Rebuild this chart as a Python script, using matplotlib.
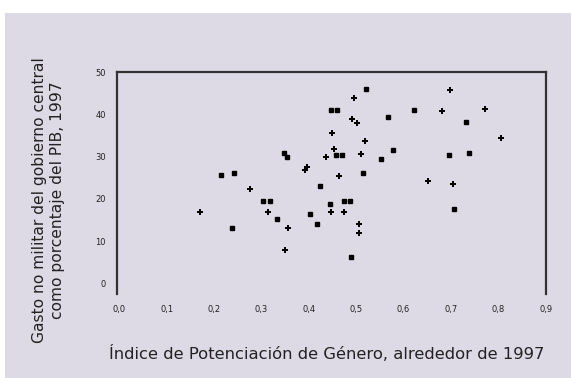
"""Gasto no militar vs Indice de Potenciacion de Genero (scatter)."""
import matplotlib
matplotlib.use("Agg")
import matplotlib.pyplot as plt
from matplotlib.patches import Rectangle

# square markers
sq_x = [0.520, 0.447, 0.460, 0.457, 0.470, 0.348, 0.354, 0.242, 0.215, 0.515,
        0.424, 0.304, 0.319, 0.474, 0.487, 0.445, 0.333, 0.403, 0.418, 0.237,
        0.488, 0.621, 0.567, 0.732, 0.578, 0.553, 0.695, 0.738, 0.706]
sq_y = [46.1, 41.2, 41.2, 30.5, 30.5, 31.0, 29.9, 26.1, 25.8, 26.1,
        23.2, 19.6, 19.6, 19.6, 19.6, 18.9, 15.3, 16.5, 14.1, 13.0,
        6.2, 41.2, 39.4, 38.2, 31.7, 29.5, 30.4, 31.0, 17.7]

# plus markers
pl_x = [0.495, 0.492, 0.501, 0.448, 0.518, 0.453, 0.436, 0.511, 0.396, 0.392,
        0.464, 0.276, 0.171, 0.313, 0.446, 0.474, 0.357, 0.506, 0.506, 0.350,
        0.699, 0.682, 0.772, 0.806, 0.651, 0.704]
pl_y = [44.0, 39.0, 38.0, 35.6, 33.9, 31.9, 30.1, 30.7, 27.7, 27.0,
        25.4, 22.3, 16.8, 16.8, 16.9, 16.9, 13.2, 14.0, 12.0, 7.8,
        45.9, 41.0, 41.5, 34.4, 24.2, 23.5]

x_ticks = [0.0, 0.1, 0.2, 0.3, 0.4, 0.5, 0.6, 0.7, 0.8, 0.9]
x_labels = ["0,0", "0,1", "0,2", "0,3", "0,4", "0,5", "0,6", "0,7", "0,8", "0,9"]
y_ticks = [0, 10, 20, 30, 40, 50]
y_labels = ["0", "10", "20", "30", "40", "50"]

bg = "#dddae6"
ink = "#222222"

fig = plt.figure(figsize=(5.71, 3.78), dpi=100, facecolor="white")
fig.patches.append(Rectangle((5 / 571, 0), 1, 1 - 13 / 378, transform=fig.transFigure,
                             facecolor=bg, edgecolor="none", zorder=-10))

ax = fig.add_axes([117 / 571, 1 - 294 / 378, (545.7 - 117) / 571, (294 - 72) / 378])
ax.set_facecolor("none")
ax.plot(sq_x, sq_y, ls="none", marker="s", ms=3.4, color="black")
ax.plot(pl_x, pl_y, ls="none", marker="P", ms=5, color="black", mew=0)

ax.set_xlim(-0.005, 0.896)
ax.set_ylim(-2.6, 50.2)
ax.set_xticks(x_ticks, x_labels)
ax.set_yticks(y_ticks, y_labels)
ax.tick_params(length=0, labelsize=6, colors=ink, pad=8)

for side in ["left", "top", "right"]:
    ax.spines[side].set_linewidth(1.6)
    ax.spines[side].set_color("#333333")
ax.spines["bottom"].set_visible(False)

fig.text(0.085, 0.47, "Gasto no militar del gobierno central\ncomo porcentaje del PIB, 1997",
         rotation=90, ha="center", va="center", fontsize=11.2, color=ink, linespacing=1.2)
fig.text(0.573, 0.066, "Índice de Potenciación de Género, alrededor de 1997",
         ha="center", va="center", fontsize=11.8, color=ink)

fig.savefig("out.png", dpi=100, facecolor="white")
